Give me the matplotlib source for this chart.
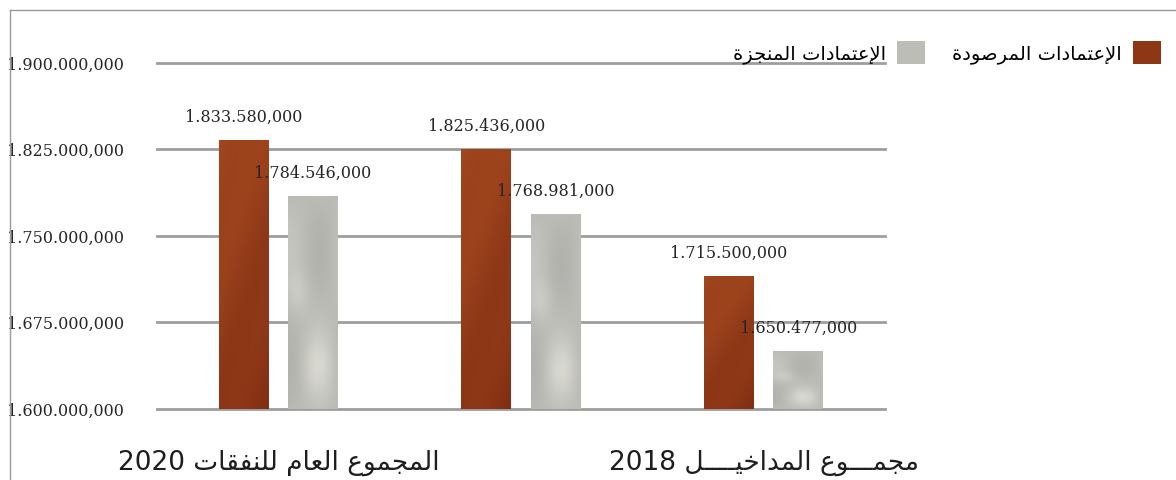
import re
import numpy as np
import matplotlib
matplotlib.use("Agg")
import matplotlib.pyplot as plt
from matplotlib.patches import Patch
from matplotlib.lines import Line2D

# ---- data -------------------------------------------------------------
categories = ["المجموع العام للنفقات 2020", "", "مجمـــوع المداخيــــل 2018"]
series_names = ["الإعتمادات المرصودة", "الإعتمادات المنجزة"]
allocated = [1833580000, 1825436000, 1715500000]
executed = [1784546000, 1768981000, 1650477000]
y_ticks = [1600000000, 1675000000, 1750000000, 1825000000, 1900000000]

# ---- minimal Arabic shaping (presentation forms + visual order) -------
FORMS = {  # isolated, final, initial, medial
    "\u0627": ("\uFE8D", "\uFE8E", None, None),
    "\u0625": ("\uFE87", "\uFE88", None, None),
    "\u0623": ("\uFE83", "\uFE84", None, None),
    "\u0629": ("\uFE93", "\uFE94", None, None),
    "\u062A": ("\uFE95", "\uFE96", "\uFE97", "\uFE98"),
    "\u062C": ("\uFE9D", "\uFE9E", "\uFE9F", "\uFEA0"),
    "\u062E": ("\uFEA5", "\uFEA6", "\uFEA7", "\uFEA8"),
    "\u062F": ("\uFEA9", "\uFEAA", None, None),
    "\u0631": ("\uFEAD", "\uFEAE", None, None),
    "\u0632": ("\uFEAF", "\uFEB0", None, None),
    "\u0635": ("\uFEB9", "\uFEBA", "\uFEBB", "\uFEBC"),
    "\u0639": ("\uFEC9", "\uFECA", "\uFECB", "\uFECC"),
    "\u0641": ("\uFED1", "\uFED2", "\uFED3", "\uFED4"),
    "\u0642": ("\uFED5", "\uFED6", "\uFED7", "\uFED8"),
    "\u0644": ("\uFEDD", "\uFEDE", "\uFEDF", "\uFEE0"),
    "\u0645": ("\uFEE1", "\uFEE2", "\uFEE3", "\uFEE4"),
    "\u0646": ("\uFEE5", "\uFEE6", "\uFEE7", "\uFEE8"),
    "\u0648": ("\uFEED", "\uFEEE", None, None),
    "\u064A": ("\uFEF1", "\uFEF2", "\uFEF3", "\uFEF4"),
}
LAM_ALEF = {
    "\u0627": ("\uFEFB", "\uFEFC", None, None),
    "\u0625": ("\uFEF9", "\uFEFA", None, None),
    "\u0623": ("\uFEF7", "\uFEF8", None, None),
}
TATWEEL = "\u0640"


def _shape(word):
    units = []
    i = 0
    while i < len(word):
        c = word[i]
        if c == "\u0644" and i + 1 < len(word) and word[i + 1] in LAM_ALEF:
            units.append(LAM_ALEF[word[i + 1]])
            i += 2
            continue
        if c in FORMS:
            units.append(FORMS[c])
        elif c == TATWEEL:
            units.append((c, c, c, c))
        else:
            units.append(c)
        i += 1

    out = []
    for k, u in enumerate(units):
        if isinstance(u, str):
            out.append(u)
            continue
        prev = units[k - 1] if k > 0 else None
        nxt = units[k + 1] if k + 1 < len(units) else None
        join_prev = isinstance(prev, tuple) and prev[2] is not None
        join_next = isinstance(nxt, tuple) and u[2] is not None
        if join_prev and join_next:
            out.append(u[3])
        elif join_prev:
            out.append(u[1])
        elif join_next:
            out.append(u[2])
        else:
            out.append(u[0])
    return "".join(out)


def ar(text):
    shaped = _shape(text)
    runs = re.findall(r"[0-9A-Za-z.,]+|[^0-9A-Za-z.,]+", shaped)
    runs = [r if re.match(r"[0-9A-Za-z.,]", r) else r[::-1] for r in runs]
    return "".join(reversed(runs)).strip()


def fmt(v):
    s = f"{v:,.0f}"
    head, tail = s.rsplit(",", 1)
    return head.replace(",", ".") + "," + tail


# ---- figure -----------------------------------------------------------
W, H = 1176, 480
fig = plt.figure(figsize=(W / 100, H / 100), dpi=100)
ax = fig.add_axes([157 / W, (H - 409) / H, 728 / W, 346 / H])

num_font = {"family": "DejaVu Serif", "size": 11.5, "color": "#262626"}
ar_font = "DejaVu Sans"

brown = "#8E3716"
gray = "#BDBDB8"

x = np.arange(len(categories))
off, bw = 0.143, 0.205

for yv in y_ticks:
    ax.axhline(yv, color="#9E9E9E", lw=2.0, zorder=1, clip_on=False)

bars_a = ax.bar(x - off, allocated, bw, bottom=0, color=brown, zorder=2)
bars_e = ax.bar(x + off, executed, bw, bottom=0, color=gray, zorder=2)

ax.set_xlim(-0.5, 2.5)
ax.set_ylim(y_ticks[0], y_ticks[-1])

# textured fills clipped to each bar
gy, gx = np.mgrid[0:1:200j, 0:1:30j]
t_b = np.clip(0.55 * gy + 0.25 * gx + 0.08 * np.sin(9 * gy + 5 * gx), 0, 1)
top_b = np.array([0xA3, 0x48, 0x1F]) / 255
bot_b = np.array([0x7C, 0x2A, 0x11]) / 255
tex_b = top_b * (1 - t_b[..., None]) + bot_b * t_b[..., None]
t_g = np.clip(0.25 + 0.18 * np.sin(6 * gy) * np.cos(5 * gx)
              + 0.35 * np.exp(-((gy - 0.8) ** 2) / 0.02 - ((gx - 0.6) ** 2) / 0.1)
              + 0.25 * np.exp(-((gy - 0.45) ** 2) / 0.01 - ((gx - 0.2) ** 2) / 0.05), 0, 1)
lo_g = np.array([0xAE, 0xAE, 0xAA]) / 255
hi_g = np.array([0xE4, 0xE4, 0xDC]) / 255
tex_g = lo_g * (1 - t_g[..., None]) + hi_g * t_g[..., None]
for bars, tex in ((bars_a, tex_b), (bars_e, tex_g)):
    for b in bars:
        x0, w = b.get_x(), b.get_width()
        top = b.get_height()
        im = ax.imshow(tex, extent=(x0, x0 + w, y_ticks[0], top), origin="upper",
                       aspect="auto", zorder=2.5, interpolation="bilinear")
        im.set_clip_path(b)

ax.set_xlim(-0.5, 2.5)
ax.set_ylim(y_ticks[0], y_ticks[-1])

for bars, vals in ((bars_a, allocated), (bars_e, executed)):
    ax.bar_label(bars, labels=[fmt(v) for v in vals], padding=10, zorder=5,
                 **num_font)

ax.set_yticks(y_ticks)
ax.set_yticklabels([fmt(v) for v in y_ticks], **num_font)
ax.tick_params(axis="y", length=0, pad=24)
ax.set_xticks(x)
ax.set_xticklabels([ar(c) for c in categories], fontsize=19, family=ar_font,
                   color="#1E1E1E")
ax.tick_params(axis="x", length=0, pad=29)
for s in ax.spines.values():
    s.set_visible(False)

handles = [Patch(facecolor=gray, edgecolor="none"),
           Patch(facecolor=brown, edgecolor="none")]
fig.legend(handles, [ar(series_names[1]), ar(series_names[0])], ncol=2,
           markerfirst=False, frameon=False, loc="upper right",
           bbox_to_anchor=(1178 / W, 1 - 24 / H), prop={"family": ar_font, "size": 14},
           handlelength=1.4, handleheight=1.4, columnspacing=1.4, handletextpad=0.6)

# outer frame lines
fig.add_artist(Line2D([10 / W, 1], [1 - 10 / H, 1 - 10 / H], color="#9A9A9A", lw=1))
fig.add_artist(Line2D([10 / W, 10 / W], [0, 1 - 10 / H], color="#9A9A9A", lw=1))

fig.savefig("out.png", dpi=100)
